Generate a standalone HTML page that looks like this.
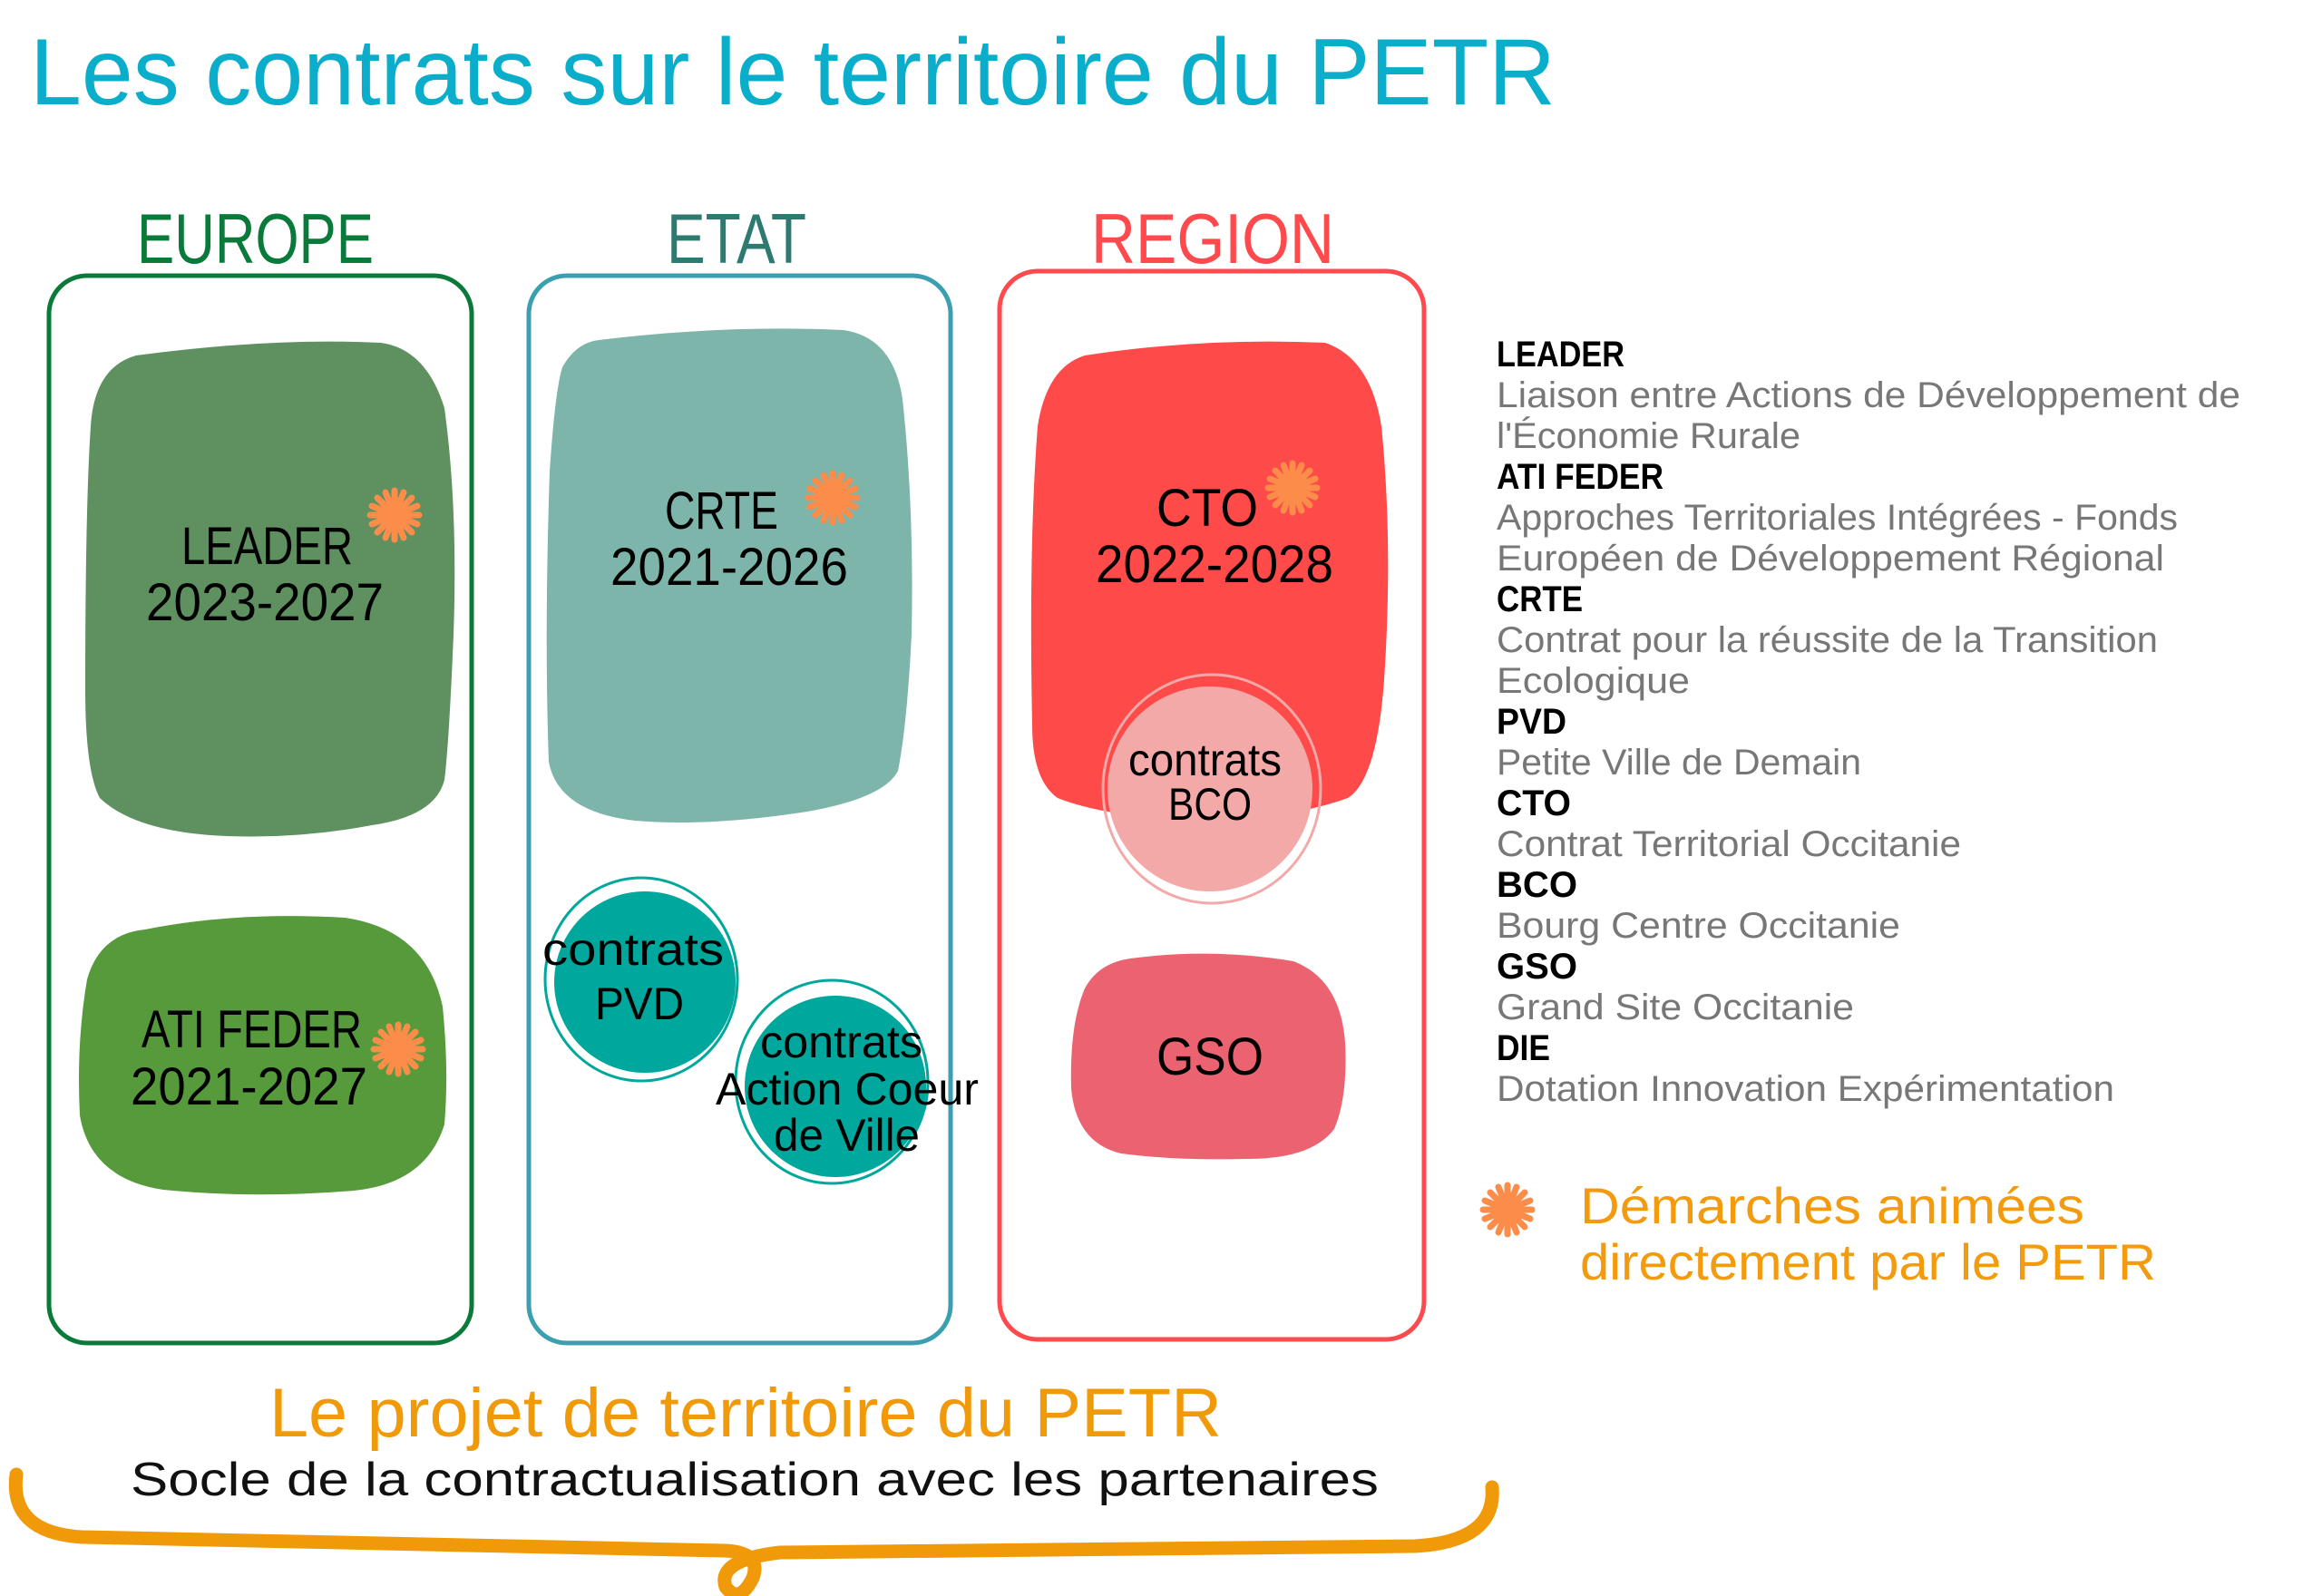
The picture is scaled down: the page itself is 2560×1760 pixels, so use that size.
<!DOCTYPE html>
<html><head><meta charset="utf-8"><style>html,body{margin:0;padding:0;background:#fff}svg{display:block}</style></head>
<body>
<svg width="2560" height="1760" viewBox="0 0 2560 1760" xmlns="http://www.w3.org/2000/svg" font-family="Liberation Sans, DejaVu Sans, sans-serif">
<defs>
<g id="star" stroke="#fb8c4a" stroke-width="7" stroke-linecap="round">
<line x1="0" y1="-27" x2="0" y2="27"/><line x1="-27" y1="0" x2="27" y2="0"/>
<line x1="-19" y1="-19" x2="19" y2="19"/><line x1="-19" y1="19" x2="19" y2="-19"/>
<line x1="-10" y1="-25" x2="10" y2="25"/><line x1="10" y1="-25" x2="-10" y2="25"/>
<line x1="-25" y1="-10" x2="25" y2="10"/><line x1="-25" y1="10" x2="25" y2="-10"/>
<circle r="7" fill="#fb8c4a" stroke="none"/>
</g>
</defs>
<text x="33" y="115" font-size="104" fill="#0aaecb" textLength="1682" lengthAdjust="spacingAndGlyphs">Les contrats sur le territoire du PETR</text>

<text x="151" y="290" font-size="78" fill="#0a7a3a" textLength="261" lengthAdjust="spacingAndGlyphs">EUROPE</text>
<text x="735" y="290" font-size="78" fill="#2e7a70" textLength="154" lengthAdjust="spacingAndGlyphs">ETAT</text>
<text x="1203" y="290" font-size="78" fill="#ff4a4d" textLength="268" lengthAdjust="spacingAndGlyphs">REGION</text>

<rect x="54" y="304" width="466" height="1177" rx="42" fill="none" stroke="#0a7a3a" stroke-width="5"/>
<rect x="583" y="304" width="465" height="1177" rx="42" fill="none" stroke="#3a9fb0" stroke-width="5"/>
<rect x="1102" y="299" width="468" height="1178" rx="42" fill="none" stroke="#ff4a4d" stroke-width="5"/>

<path d="M150 392 Q300 372 420 378 Q470 385 490 450 Q505 560 500 700 Q495 820 490 860 Q480 900 410 910 Q330 925 250 922 Q150 918 110 880 Q94 850 94 760 Q94 560 100 470 Q104 405 150 392 Z" fill="#5e9060"/>
<path d="M160 1025 Q260 1005 380 1012 Q470 1025 488 1110 Q495 1180 490 1240 Q470 1305 390 1313 Q280 1322 180 1312 Q100 1300 88 1230 Q84 1150 96 1080 Q110 1030 160 1025 Z" fill="#569a3b"/>
<path d="M660 375 Q800 358 930 364 Q985 372 995 440 Q1008 560 1005 700 Q1000 800 990 850 Q975 880 890 895 Q780 912 700 905 Q615 895 605 840 Q600 700 606 520 Q612 430 620 405 Q635 378 660 375 Z" fill="#7db5aa"/>
<path d="M1196 392 Q1326 372 1461 378 Q1511 395 1523 470 Q1536 600 1526 750 Q1518 860 1486 880 Q1416 905 1316 905 Q1216 900 1166 880 Q1138 860 1138 800 Q1134 600 1144 470 Q1154 405 1196 392 Z" fill="#ff4a4a"/>
<path d="M1246 1057 Q1336 1045 1426 1060 Q1478 1080 1483 1150 Q1486 1210 1471 1245 Q1446 1278 1376 1278 Q1296 1280 1236 1272 Q1186 1260 1181 1200 Q1179 1130 1196 1090 Q1211 1062 1246 1057 Z" fill="#eb6370"/>

<circle cx="711" cy="1083" r="100" fill="#00a79c"/>
<ellipse cx="707" cy="1080" rx="106" ry="112" fill="none" stroke="#00a79c" stroke-width="3"/>
<circle cx="921" cy="1198" r="100" fill="#00a79c"/>
<ellipse cx="917" cy="1193" rx="106" ry="112" fill="none" stroke="#00a79c" stroke-width="3"/>
<circle cx="1334" cy="870" r="113" fill="#f2a9a8"/>
<ellipse cx="1336" cy="870" rx="120" ry="126" fill="none" stroke="#f2a9a8" stroke-width="3"/>

<g fill="#000" font-size="58">
<text x="200" y="622" textLength="189" lengthAdjust="spacingAndGlyphs">LEADER</text>
<text x="161" y="684" textLength="262" lengthAdjust="spacingAndGlyphs">2023-2027</text>
<text x="156" y="1155" textLength="243" lengthAdjust="spacingAndGlyphs">ATI FEDER</text>
<text x="144" y="1218" textLength="261" lengthAdjust="spacingAndGlyphs">2021-2027</text>
<text x="733" y="583" textLength="125" lengthAdjust="spacingAndGlyphs">CRTE</text>
<text x="673" y="645" textLength="262" lengthAdjust="spacingAndGlyphs">2021-2026</text>
<text x="1275" y="580" textLength="112" lengthAdjust="spacingAndGlyphs">CTO</text>
<text x="1208" y="642" textLength="262" lengthAdjust="spacingAndGlyphs">2022-2028</text>
<text x="1275" y="1185" textLength="118" lengthAdjust="spacingAndGlyphs">GSO</text>
</g>
<g fill="#000" font-size="50">
<text x="598" y="1064" textLength="200" lengthAdjust="spacingAndGlyphs">contrats</text>
<text x="656" y="1124" textLength="98" lengthAdjust="spacingAndGlyphs">PVD</text>
<text x="838" y="1166" textLength="179" lengthAdjust="spacingAndGlyphs">contrats</text>
<text x="789" y="1218" textLength="290" lengthAdjust="spacingAndGlyphs">Action Coeur</text>
<text x="853" y="1269" textLength="161" lengthAdjust="spacingAndGlyphs">de Ville</text>
<text x="1244" y="855" textLength="169" lengthAdjust="spacingAndGlyphs">contrats</text>
<text x="1288" y="904" textLength="92" lengthAdjust="spacingAndGlyphs">BCO</text>
</g>

<use href="#star" x="435" y="568"/>
<use href="#star" x="439" y="1157"/>
<use href="#star" x="918" y="549"/>
<use href="#star" x="1425" y="538"/>
<use href="#star" x="1662" y="1334"/>

<g font-size="40">
<text x="1650" y="404" font-weight="bold" fill="#000" textLength="141" lengthAdjust="spacingAndGlyphs">LEADER</text>
<text x="1650" y="449" fill="#777" textLength="820" lengthAdjust="spacingAndGlyphs">Liaison entre Actions de Développement de</text>
<text x="1650" y="494" fill="#777" textLength="335" lengthAdjust="spacingAndGlyphs">l'Économie Rurale</text>
<text x="1650" y="539" font-weight="bold" fill="#000" textLength="184" lengthAdjust="spacingAndGlyphs">ATI FEDER</text>
<text x="1650" y="584" fill="#777" textLength="751" lengthAdjust="spacingAndGlyphs">Approches Territoriales Intégrées - Fonds</text>
<text x="1650" y="629" fill="#777" textLength="736" lengthAdjust="spacingAndGlyphs">Européen de Développement Régional</text>
<text x="1650" y="674" font-weight="bold" fill="#000" textLength="95" lengthAdjust="spacingAndGlyphs">CRTE</text>
<text x="1650" y="719" fill="#777" textLength="729" lengthAdjust="spacingAndGlyphs">Contrat pour la réussite de la Transition</text>
<text x="1650" y="764" fill="#777" textLength="213" lengthAdjust="spacingAndGlyphs">Ecologique</text>
<text x="1650" y="809" font-weight="bold" fill="#000" textLength="77" lengthAdjust="spacingAndGlyphs">PVD</text>
<text x="1650" y="854" fill="#777" textLength="402" lengthAdjust="spacingAndGlyphs">Petite Ville de Demain</text>
<text x="1650" y="899" font-weight="bold" fill="#000" textLength="82" lengthAdjust="spacingAndGlyphs">CTO</text>
<text x="1650" y="944" fill="#777" textLength="512" lengthAdjust="spacingAndGlyphs">Contrat Territorial Occitanie</text>
<text x="1650" y="989" font-weight="bold" fill="#000" textLength="89" lengthAdjust="spacingAndGlyphs">BCO</text>
<text x="1650" y="1034" fill="#777" textLength="445" lengthAdjust="spacingAndGlyphs">Bourg Centre Occitanie</text>
<text x="1650" y="1079" font-weight="bold" fill="#000" textLength="89" lengthAdjust="spacingAndGlyphs">GSO</text>
<text x="1650" y="1124" fill="#777" textLength="394" lengthAdjust="spacingAndGlyphs">Grand Site Occitanie</text>
<text x="1650" y="1169" font-weight="bold" fill="#000" textLength="59" lengthAdjust="spacingAndGlyphs">DIE</text>
<text x="1650" y="1214" fill="#777" textLength="681" lengthAdjust="spacingAndGlyphs">Dotation Innovation Expérimentation</text>
</g>
<g font-size="56" fill="#f39a0d">
<text x="1742" y="1349" textLength="556" lengthAdjust="spacingAndGlyphs">Démarches animées</text>
<text x="1742" y="1411" textLength="635" lengthAdjust="spacingAndGlyphs">directement par le PETR</text>
</g>

<text x="297" y="1584" font-size="76" fill="#f09a0a" textLength="1050" lengthAdjust="spacingAndGlyphs">Le projet de territoire du PETR</text>
<text x="144" y="1649" font-size="52" fill="#111" textLength="1376" lengthAdjust="spacingAndGlyphs">Socle de la contractualisation avec les partenaires</text>

<path d="M18 1626 Q10 1690 90 1695 L800 1710 Q840 1712 830 1740 Q815 1770 800 1750 Q790 1720 860 1712 L1560 1705 Q1650 1700 1645 1640" fill="none" stroke="#f09a0a" stroke-width="15" stroke-linecap="round" stroke-linejoin="round"/>
</svg>
</body></html>
